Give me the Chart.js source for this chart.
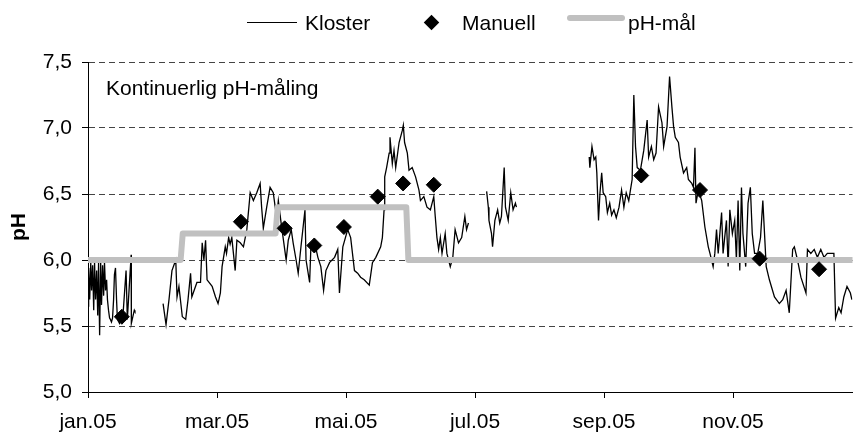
<!DOCTYPE html>
<html lang="no">
<head>
<meta charset="UTF-8">
<title>Kontinuerlig pH-måling</title>
<script src="https://cdn.jsdelivr.net/npm/chart.js"></script>
<style>
  body { margin: 0; background: #fff; }
  #wrap { position: relative; width: 861px; height: 432px; font-family: 'Liberation Sans', Arial, sans-serif; font-size: 21px; color: #000; }
  #wrap canvas { position: absolute; left: 0; top: 0; }
  .txt { position: absolute; line-height: 21px; white-space: nowrap; }
  .sample { position: absolute; }
</style>
</head>
<body>
<div id="wrap">
  <canvas id="phChart" width="861" height="432"></canvas>
  <!-- legend -->
  <div class="sample" style="left:247px; top:22px; width:50px; height:1px; background:#000;"></div>
  <div class="txt" style="left:305px; top:12px;">Kloster</div>
  <div class="sample" style="left:426px; top:17px; width:11px; height:11px; background:#000; transform:rotate(45deg);"></div>
  <div class="txt" style="left:462px; top:12px;">Manuell</div>
  <div class="sample" style="left:567px; top:15px; width:58px; height:6px; border-radius:3px; background:#c0c0c0;"></div>
  <div class="txt" style="left:628px; top:12px;">pH-mål</div>
  <!-- annotation -->
  <div class="txt" style="left:106px; top:77px;">Kontinuerlig pH-måling</div>
</div>
<script>
// x = dager fra 1. jan 2005
const tickDays = [0, 61, 122, 183, 244, 305];
const tickLabels = ['jan.05', 'mar.05', 'mai.05', 'jul.05', 'sep.05', 'nov.05'];

// kontinuerlig måling, Kloster (dag, pH), fire perioder med hull mellom
const klosterSeg1 = [
  [0,5.65],[0.3,5.94],[0.8,5.70],[1.3,5.98],[1.7,5.77],[2.2,5.96],[2.7,5.62],[3.1,5.98],[3.6,5.70],[4.1,5.92],
  [4.6,5.58],[5.0,5.98],[5.5,5.43],[6.0,5.98],[6.4,5.66],[6.9,5.96],[7.4,5.73],[7.8,5.98],[8.3,5.77],[8.8,5.85],
  [9.2,5.70],[9.7,5.62],[10.2,5.56],[10.6,5.55],[11.1,5.53],[11.6,5.56],[12.1,5.70],[12.5,5.89],[13.0,5.94],[13.5,5.70],
  [13.9,5.55],[14.9,5.52],[15.8,5.56],[16.7,5.62],[18.0,5.92],[18.6,5.55],[20.4,6.04],[20.5,5.52],[21.9,5.62],[22.2,5.61]
];
const klosterSeg2 = [
  [35.5,5.67],[36.9,5.51],[38.3,5.70],[39.7,5.92],[41.5,6.00],[42.1,5.72],[43.0,5.80],[44.6,5.57],[46.2,5.55],[47.3,5.70],
  [48.5,5.90],[49.1,5.72],[51.5,5.83],[53.2,5.83],[54.0,6.13],[54.8,6.00],[55.6,6.15],[56.3,5.85],[58.7,5.80],[60.3,5.72],
  [61.5,5.67],[62.6,5.75],[63.4,5.95],[64.9,6.10],[65.5,6.05],[66.5,6.17],[67.2,6.12],[68.0,6.17],[69.6,5.92],[70.4,6.15],
  [72.0,6.13],[73.5,6.10],[75.1,6.23],[76.7,6.51],[78.2,6.45],[79.8,6.51],[81.4,6.58],[82.1,6.40],[82.9,6.24],[84.5,6.40],
  [86.1,6.55],[87.6,6.51],[89.2,6.32],[90.0,6.45],[91.4,6.27],[93.7,6.00],[94.7,6.15],[96.1,6.23],[97.0,6.13],[98.4,6.00],
  [99.4,5.90],[100.7,6.10],[102.6,6.38],[103.1,6.00],[104.8,5.83],[105.4,6.10],[107.2,6.13],[108.7,6.02],[110.1,5.95],[111.4,5.77],
  [112.5,5.92],[114.2,5.98],[116.6,6.02],[118.1,6.08],[118.9,5.75],[120.5,6.10],[122.8,6.23],[124.2,6.17],[126.0,5.92],[127.5,5.90],
  [128.9,5.87],[130.6,5.85],[133.0,5.81],[134.5,5.98],[136.1,6.02],[138.4,6.10],[139.2,6.17],[140.0,6.38],[140.3,6.63],[141.2,6.70],
  [142.4,6.81],[142.8,6.93],[143.9,6.73],[144.7,6.83],[145.5,6.70],[147.1,6.89],[148.6,6.98],[149.1,7.02],[149.7,6.89],[151.0,6.81],
  [151.8,6.68],[153.3,6.70],[154.9,6.63],[156.5,6.53],[157.2,6.45],[158.8,6.48],[160.3,6.40],[161.9,6.38],[163.5,6.48],[164.2,6.33],
  [165.0,6.17],[165.8,6.08],[166.6,6.17],[167.4,6.05],[168.9,6.20],[169.7,6.05],[171.3,5.95],[172.5,6.02],[173.6,6.23],[175.2,6.13],
  [176.7,6.17],[178.2,6.33],[179.0,6.23],[179.9,6.28]
];
const klosterSeg3 = [
  [188.5,6.52],[189.3,6.40],[189.6,6.30],[190.8,6.20],[191.3,6.10],[192.4,6.30],[193.7,6.38],[194.7,6.28],[195.5,6.33],[196.8,6.70],
  [197.4,6.40],[198.7,6.30],[199.9,6.51],[201.0,6.38],[202.1,6.43],[202.6,6.40]
];
const klosterSeg4 = [
  [237.0,6.78],[237.3,6.70],[238.3,6.86],[239.3,6.76],[240.1,6.78],[240.6,6.66],[241.4,6.30],[242.1,6.51],[242.9,6.66],[243.6,6.51],
  [244.8,6.48],[245.6,6.36],[246.7,6.43],[247.6,6.34],[248.7,6.38],[249.8,6.32],[251.1,6.40],[252.3,6.53],[253.4,6.40],[254.5,6.51],
  [255.7,6.45],[256.7,6.55],[257.3,6.61],[258.1,7.25],[258.9,6.86],[259.7,6.70],[261.2,6.68],[262.8,6.83],[264.4,7.06],[265.1,6.78],
  [266.4,6.86],[267.5,6.76],[268.6,6.81],[269.8,7.16],[271.4,7.04],[272.2,6.86],[273.8,7.01],[275.0,7.39],[276.1,7.16],[276.9,7.01],
  [277.7,6.93],[279.2,6.89],[280.0,6.78],[281.6,6.66],[283.1,6.70],[283.9,6.61],[285.5,6.58],[286.3,6.55],[287.0,6.85],[287.5,6.43],
  [288.6,6.53],[290.2,6.45],[291.7,6.25],[293.3,6.10],[294.1,6.05],[295.6,5.95],[296.4,6.05],[297.2,6.23],[298.0,6.05],[299.6,6.36],
  [300.3,6.05],[301.9,6.30],[302.7,5.95],[303.5,6.38],[304.7,6.20],[305.8,6.30],[306.6,6.00],[307.4,6.45],[308.2,5.92],[309.0,6.55],
  [309.7,6.20],[311.0,5.95],[312.1,6.43],[313.2,6.55],[314.1,6.20],[315.2,6.05],[316.7,6.05],[318.0,6.17],[319.1,6.45],[320.7,5.95],
  [322.2,5.85],[324.6,5.72],[326.9,5.67],[328.5,5.70],[330.1,5.77],[331.6,5.60],[333.2,6.08],[334.0,6.10],[335.5,6.00],[337.1,5.87],
  [339.5,5.75],[340.2,6.08],[341.8,6.05],[343.4,6.08],[344.9,6.02],[346.5,6.08],[348.0,6.02],[349.6,6.05],[351.2,6.05],[352.7,6.05],
  [353.5,5.56],[355.0,5.64],[356.1,5.60],[357.4,5.72],[358.9,5.80],[360.5,5.75],[361.2,5.70]
];

// manuelle målinger
const manuellDays = [16.0, 72.3, 93.0, 107.0, 121.0, 137.0, 149.0, 163.5, 261.6, 289.4, 317.6, 345.7];
const manuellPH = [5.57, 6.29, 6.24, 6.11, 6.25, 6.48, 6.58, 6.57, 6.64, 6.53, 6.01, 5.93];

// pH-mål (trappetrinn)
const maalDays = [0, 43.8, 44.8, 88.7, 89.7, 150.5, 151.5, 361.5];
const maalPH = [6.0, 6.0, 6.2, 6.2, 6.4, 6.4, 6.0, 6.0];

const klosterData = [];
[klosterSeg1, klosterSeg2, klosterSeg3, klosterSeg4].forEach((seg, i) => {
  if (i > 0) klosterData.push({ x: seg[0][0] - 0.1, y: null }); // hull i målingene
  seg.forEach(p => klosterData.push({ x: p[0], y: p[1] }));
});

const font = { family: "'Liberation Sans', Arial, sans-serif", size: 21 };

const ctx = document.getElementById('phChart').getContext('2d');
new Chart(ctx, {
  type: 'line',
  data: {
    datasets: [
      {
        label: 'Manuell',
        data: manuellDays.map((d, i) => ({ x: d, y: manuellPH[i] })),
        showLine: false,
        pointStyle: 'rectRot',
        pointRadius: 7.5,
        pointBackgroundColor: '#000',
        pointBorderColor: '#000',
        pointBorderWidth: 1,
        order: 0
      },
      {
        label: 'pH-mål',
        data: maalDays.map((d, i) => ({ x: d, y: maalPH[i] })),
        borderColor: '#c0c0c0',
        borderWidth: 6,
        borderCapStyle: 'round',
        borderJoinStyle: 'round',
        pointRadius: 0,
        order: 1
      },
      {
        label: 'Kloster',
        data: klosterData,
        borderColor: '#000',
        borderWidth: 1.3,
        pointRadius: 0,
        spanGaps: false,
        order: 2
      }
    ]
  },
  options: {
    responsive: false,
    animation: false,
    devicePixelRatio: 1,
    layout: { padding: { top: 62, right: 1, bottom: 0, left: 0 } },
    plugins: { legend: { display: false }, tooltip: { enabled: false } },
    scales: {
      x: {
        type: 'linear',
        min: 0,
        max: 361.5,
        afterBuildTicks: s => { s.ticks = tickDays.map(v => ({ value: v })); },
        afterFit: s => { s.height = 40; },
        ticks: {
          autoSkip: false,
          maxRotation: 0,
          padding: 12,
          color: '#000',
          font: font,
          callback: (v, i) => tickLabels[i]
        },
        grid: { drawOnChartArea: false, drawTicks: true, tickLength: 6, color: '#000', lineWidth: 1 },
        border: { color: '#000', width: 1 }
      },
      y: {
        min: 5,
        max: 7.5,
        afterFit: s => { s.width = 88; },
        ticks: {
          stepSize: 0.5,
          padding: 10,
          color: '#000',
          font: font,
          callback: v => v.toFixed(1).replace('.', ',')
        },
        grid: { color: '#444', lineWidth: 1, tickLength: 6, tickColor: '#000' },
        border: { color: '#000', width: 1, dash: [6, 4] },
        title: {
          display: true,
          text: 'pH',
          color: '#000',
          font: { family: font.family, size: 21, weight: 'bold' },
          padding: { top: 7, bottom: 0 }
        }
      }
    }
  }
});
</script>
</body>
</html>
